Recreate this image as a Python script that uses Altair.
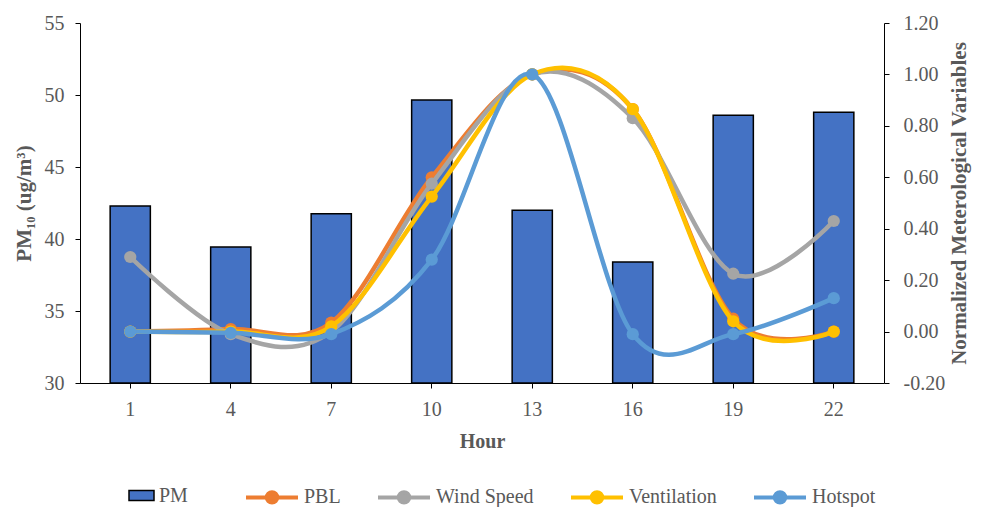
import altair as alt
import pandas as pd

hours = [1, 4, 7, 10, 13, 16, 19, 22]
pm = [42.3, 39.45, 41.75, 49.65, 42.0, 38.4, 48.6, 48.8]
pbl = [0.00, 0.01, 0.035, 0.60, 1.00, 0.865, 0.05, 0.00]
wind = [0.29, -0.01, 0.00, 0.575, 1.00, 0.83, 0.225, 0.43]
vent = [0.00, 0.00, 0.02, 0.525, 1.00, 0.865, 0.04, 0.00]
hot = [0.00, -0.005, -0.01, 0.28, 1.00, -0.01, -0.01, 0.13]

line_names = ["PBL", "Wind Speed", "Ventilation", "Hotspot"]
line_colors = ["#ED7D31", "#A5A5A5", "#FFC000", "#5B9BD5"]
bar_name = "PM"
bar_color = "#4472C4"
left_ticks = [30, 35, 40, 45, 50, 55]
right_ticks = [-0.2, 0.0, 0.2, 0.4, 0.6, 0.8, 1.0, 1.2]

FONT = "Liberation Serif"
GRAY = "#595959"

bar_df = pd.DataFrame({"Hour": hours, "value": pm, "series": bar_name})
line_series = list(zip(line_names, [pbl, wind, vent, hot]))

rect_path = "M-1,-0.4H1V0.4H-1Z"
line_path = "M-1,0H1M-0.2,0A0.2,0.2 0 1,0 0.2,0A0.2,0.2 0 1,0 -0.2,0"

common_legend = dict(
    title=None, orient="none", direction="horizontal",
    labelFont=FONT, labelFontSize=20, labelColor=GRAY, labelOffset=4,
    symbolOpacity=1,
)

pm_legend = alt.Legend(
    legendX=48, legendY=459, symbolType=rect_path, symbolSize=625,
    symbolStrokeColor="black", symbolStrokeWidth=1.5, **common_legend,
)
line_legend = alt.Legend(
    legendX=164, legendY=446, symbolType=line_path, symbolSize=2704,
    symbolStrokeWidth=4, columnPadding=29, **common_legend,
)

x_enc = alt.X(
    "Hour:O",
    scale=alt.Scale(paddingInner=0.6, paddingOuter=0.3),
    axis=alt.Axis(
        title="Hour", labelAngle=0, domainColor="black", tickColor="black", tickSize=5,
        labelPadding=11, labelColor=GRAY, labelFont=FONT, labelFontSize=20,
        titleFont=FONT, titleFontSize=20, titleFontWeight="bold", titleColor=GRAY,
        titlePadding=12, grid=False,
    ),
)

left_axis = alt.Axis(
    title="PM₁₀ (ug/m³)", orient="left", values=left_ticks, grid=False,
    domainColor="black", tickColor="black", tickSize=5, labelPadding=11,
    labelColor=GRAY, labelFont=FONT, labelFontSize=20,
    titleFont=FONT, titleFontSize=21, titleFontWeight="bold", titleColor=GRAY,
    titlePadding=10,
)

right_axis = alt.Axis(
    title="Normalized Meterological Variables", orient="right", values=right_ticks,
    format=".2f", labelExpr="replace(datum.label, '\u2212', '-')", grid=False,
    domainColor="black", tickColor="black", tickSize=5, labelPadding=14,
    labelColor=GRAY, labelFont=FONT, labelFontSize=20,
    titleFont=FONT, titleFontSize=21, titleFontWeight="bold", titleColor=GRAY,
    titlePadding=25, titleAngle=270,
)

bars = alt.Chart(bar_df).mark_bar(stroke="black", strokeWidth=1.5).encode(
    x=x_enc,
    y=alt.Y("value:Q", scale=alt.Scale(domain=[30, 55], zero=False), axis=left_axis),
    y2=alt.datum(30),
    color=alt.Color("series:N", scale=alt.Scale(domain=[bar_name], range=[bar_color]), legend=pm_legend),
)

right_scale = alt.Scale(domain=[-0.2, 1.2], zero=False)
line_layers = []
for name, vals in line_series:
    df = pd.DataFrame({"Hour": hours, "value": vals, "series": name})
    base = alt.Chart(df).encode(
        x=x_enc,
        y=alt.Y("value:Q", scale=right_scale, axis=right_axis),
    )
    line_layers.append(
        base.mark_line(interpolate="cardinal", strokeWidth=4.5).encode(
            stroke=alt.Stroke("series:N", scale=alt.Scale(domain=line_names, range=line_colors), legend=line_legend)
        )
    )
    line_layers.append(
        base.mark_circle(size=150, opacity=1).encode(
            fill=alt.Fill("series:N", scale=alt.Scale(domain=line_names, range=line_colors), legend=line_legend)
        )
    )

lines = alt.layer(*line_layers)

chart = (
    alt.layer(bars, lines)
    .resolve_scale(y="independent")
    .properties(
        width=804,
        height=360,
        autosize=alt.AutoSizeParams(type="none"),
        padding={"left": 72, "top": 15, "right": 89, "bottom": 124},
    )
    .configure_view(strokeWidth=0)
    .configure_legend(labelFont=FONT, labelFontSize=20, labelColor=GRAY)
)

chart.save("out.html", embed_options={"renderer": "svg", "actions": False})
